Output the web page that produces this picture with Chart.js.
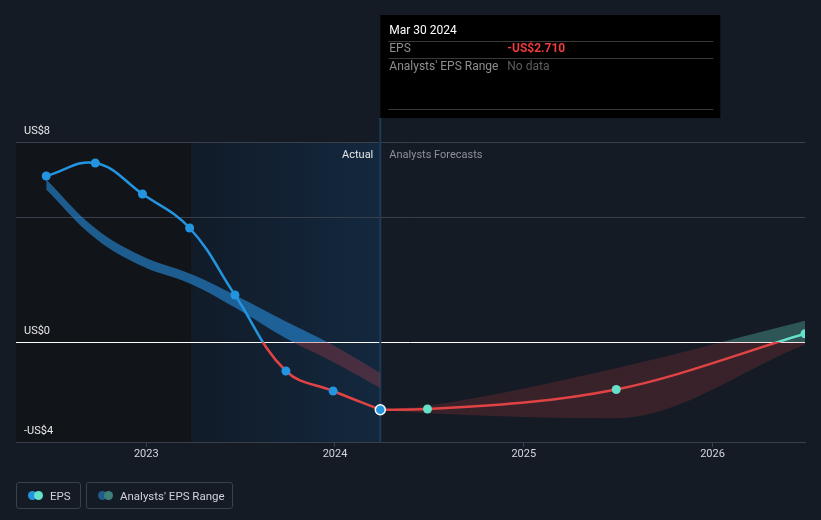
<!DOCTYPE html>
<html>
<head>
<meta charset="utf-8">
<script src="https://cdn.jsdelivr.net/npm/chart.js@4.4.1/dist/chart.umd.min.js"></script>
<style>
  html, body { margin: 0; padding: 0; background: #151b25; }
  #wrap { position: relative; width: 821px; height: 520px; }
  canvas { display: block; }
  .legend { position: absolute; left: 16px; top: 482px; display: flex; gap: 5px; font: 11.5px Roboto, sans-serif; color: #cfd3d9; }
  .item { box-sizing: border-box; height: 27px; border: 1px solid #3b414b; border-radius: 3px; display: flex; align-items: center; padding: 0 0 0 11px; white-space: nowrap; }
  .dots { position: relative; width: 15px; height: 9px; margin-right: 7px; }
  .dots span { position: absolute; top: 0; width: 9px; height: 9px; border-radius: 50%; }
</style>
</head>
<body>
<div id="wrap">
  <canvas id="myChart" width="821" height="520"></canvas>
  <div class="legend">
    <div class="item" style="width:65px"><div class="dots"><span style="left:0;background:#2394df"></span><span style="left:6px;background:#64e1c8"></span></div>EPS</div>
    <div class="item" style="width:147px"><div class="dots"><span style="left:0;background:#1f5b8b"></span><span style="left:6px;background:#3e7f78"></span></div>Analysts' EPS Range</div>
  </div>
</div>
<script>
// données (années décimales, US$)
const actualDates = [2022.47, 2022.73, 2022.98, 2023.23, 2023.47, 2023.74, 2023.99, 2024.24];
const actualEps = [6.64, 7.16, 5.92, 4.56, 1.88, -1.16, -1.96, -2.71];
const pastRangeHigh = [6.5, 4.55, 3.43, 2.74, 1.88, 0.82, -0.13, -1.24];
const pastRangeLow = [6.1, 4.15, 3.03, 2.34, 1.38, 0.15, -0.8, -1.84];

const forecastDates = [2024.24, 2024.49, 2025.49, 2026.49];
const forecastEps = [-2.71, -2.68, -1.9, 0.33];
const forecastHigh = [-2.71, -2.55, -1.05, 0.85];
const forecastLow = [-2.71, -2.85, -3.05, -0.1];

const yearTicks = [2023, 2024, 2025, 2026];
const yTicks = [-4, 0, 5, 8];
const yTickLabels = ['-US$4', 'US$0', '', 'US$8'];

const highlightStart = 2023.237;
const nowDate = 2024.24;

const toPoints = (xs, ys) => xs.map((x, i) => ({ x, y: ys[i] }));

// couleur qui change au passage de zéro
function splitColor(above, below) {
  return (context) => {
    const chart = context.chart;
    const a = chart.chartArea;
    if (!a) return below;
    const zero = chart.scales.y.getPixelForValue(0);
    const f = Math.min(Math.max((zero - a.top) / (a.bottom - a.top), 0), 1);
    const g = chart.ctx.createLinearGradient(0, a.top, 0, a.bottom);
    g.addColorStop(0, above);
    g.addColorStop(f, above);
    g.addColorStop(f, below);
    g.addColorStop(1, below);
    return g;
  };
}

const bgPlugin = {
  id: 'bgPlugin',
  beforeDraw(chart) {
    const { ctx, chartArea: a, scales: { x } } = chart;
    const hs = x.getPixelForValue(highlightStart);
    const now = x.getPixelForValue(nowDate);
    ctx.save();
    ctx.fillStyle = '#111419';
    ctx.fillRect(a.left, a.top, hs - a.left, a.bottom - a.top);
    const g = ctx.createLinearGradient(hs, 0, now, 0);
    g.addColorStop(0, '#111b28');
    g.addColorStop(1, '#13283e');
    ctx.fillStyle = g;
    ctx.fillRect(hs, a.top, now - hs, a.bottom - a.top);
    ctx.restore();
  },
  beforeDatasetsDraw(chart) {
    const { ctx, chartArea: a, scales: { x } } = chart;
    const now = x.getPixelForValue(nowDate);
    ctx.save();
    ctx.strokeStyle = '#1d3a56';
    ctx.lineWidth = 2;
    ctx.beginPath();
    ctx.moveTo(now, 118);
    ctx.lineTo(now, a.bottom);
    ctx.stroke();
    ctx.restore();
  },
  afterDraw(chart) {
    const { ctx, scales: { x } } = chart;
    const now = x.getPixelForValue(nowDate);
    ctx.save();
    ctx.font = '11px Roboto';
    ctx.textBaseline = 'middle';
    ctx.textAlign = 'right';
    ctx.fillStyle = '#e6e6e6';
    ctx.fillText('Actual', now - 7, 155);
    ctx.textAlign = 'left';
    ctx.fillStyle = '#8c9097';
    ctx.fillText('Analysts Forecasts', now + 9, 155);

    // infobulle fixe
    ctx.fillStyle = '#000000';
    ctx.fillRect(now, 15, 340, 103);
    ctx.strokeStyle = '#3a3a3a';
    ctx.lineWidth = 1;
    [41.5, 58.5, 109.5].forEach(yy => {
      ctx.beginPath();
      ctx.moveTo(now + 8, yy);
      ctx.lineTo(now + 333, yy);
      ctx.stroke();
    });
    ctx.font = '12px Roboto';
    ctx.fillStyle = '#ffffff';
    ctx.fillText('Mar 30 2024', now + 9, 31);
    ctx.fillStyle = '#8e8e8e';
    ctx.fillText('EPS', now + 9, 49);
    ctx.fillText("Analysts' EPS Range", now + 9, 67);
    ctx.font = 'bold 12px Roboto';
    ctx.fillStyle = '#ee3b3b';
    ctx.fillText('-US$2.710', now + 127, 49);
    ctx.font = '12px Roboto';
    ctx.fillStyle = '#5e5e5e';
    ctx.fillText('No data', now + 127, 67);
    ctx.restore();
  }
};

const ctx = document.getElementById('myChart').getContext('2d');
new Chart(ctx, {
  type: 'line',
  data: {
    datasets: [
      {
        label: 'EPS',
        data: toPoints(actualDates, actualEps),
        borderColor: splitColor('#2394df', '#e04343'),
        borderWidth: 2.5,
        tension: 0.4,
        pointRadius: actualDates.map((d, i) => i === actualDates.length - 1 ? 5 : 4.5),
        pointBackgroundColor: '#2394df',
        pointBorderColor: actualDates.map((d, i) => i === actualDates.length - 1 ? '#ffffff' : '#2394df'),
        pointBorderWidth: actualDates.map((d, i) => i === actualDates.length - 1 ? 1.5 : 0),
        fill: false,
        order: 0
      },
      {
        label: 'EPS forecast',
        data: toPoints(forecastDates, forecastEps),
        borderColor: splitColor('#64e1c8', '#e04343'),
        borderWidth: 2.5,
        cubicInterpolationMode: 'monotone',
        pointRadius: forecastDates.map((d, i) => i === 0 ? 0 : 4.5),
        pointBackgroundColor: '#64e1c8',
        pointBorderWidth: 0,
        fill: false,
        order: 1
      },
      {
        label: 'Past range high',
        data: toPoints(actualDates, pastRangeHigh),
        borderWidth: 0,
        pointRadius: 0,
        tension: 0.4,
        fill: false,
        order: 3
      },
      {
        label: 'Past range low',
        data: toPoints(actualDates, pastRangeLow),
        borderWidth: 0,
        pointRadius: 0,
        tension: 0.4,
        fill: '-1',
        backgroundColor: splitColor('rgba(38,140,220,0.6)', 'rgba(160,60,72,0.38)'),
        order: 3
      },
      {
        label: 'Forecast high',
        data: toPoints(forecastDates, forecastHigh),
        borderWidth: 0,
        pointRadius: 0,
        cubicInterpolationMode: 'monotone',
        fill: false,
        order: 4
      },
      {
        label: 'Forecast low',
        data: toPoints(forecastDates, forecastLow),
        borderWidth: 0,
        pointRadius: 0,
        cubicInterpolationMode: 'monotone',
        fill: '-1',
        backgroundColor: splitColor('rgba(100,210,190,0.32)', 'rgba(224,64,63,0.18)'),
        order: 4
      }
    ]
  },
  options: {
    responsive: false,
    animation: false,
    events: [],
    layout: { padding: { left: 16, right: 16, top: 142, bottom: 54 } },
    plugins: { legend: { display: false }, tooltip: { enabled: false } },
    scales: {
      x: {
        type: 'linear',
        min: 2022.31,
        max: 2026.49,
        afterBuildTicks: scale => { scale.ticks = yearTicks.map(v => ({ value: v })); },
        afterFit: scale => { scale.height = 24; },
        ticks: {
          callback: v => String(v),
          color: '#d4d6da',
          font: { family: 'Roboto', size: 11 },
          padding: 1,
          maxRotation: 0
        },
        grid: { drawOnChartArea: false, drawTicks: true, tickLength: 5, color: '#3a404b' },
        border: { display: true, color: '#3a404b', width: 1 }
      },
      y: {
        min: -4,
        max: 8,
        afterBuildTicks: scale => { scale.ticks = yTicks.map(v => ({ value: v })); },
        afterFit: scale => { scale.width = 0; },
        ticks: {
          mirror: true,
          padding: 8,
          labelOffset: -11,
          callback: v => yTickLabels[yTicks.indexOf(v)],
          color: '#e8e8e8',
          font: { family: 'Roboto', size: 11 }
        },
        grid: {
          drawTicks: false,
          color: c => c.tick && c.tick.value === 0 ? '#ffffff' : '#3a404b',
          lineWidth: 1
        },
        border: { display: false }
      }
    }
  },
  plugins: [bgPlugin]
});
</script>
</body>
</html>
